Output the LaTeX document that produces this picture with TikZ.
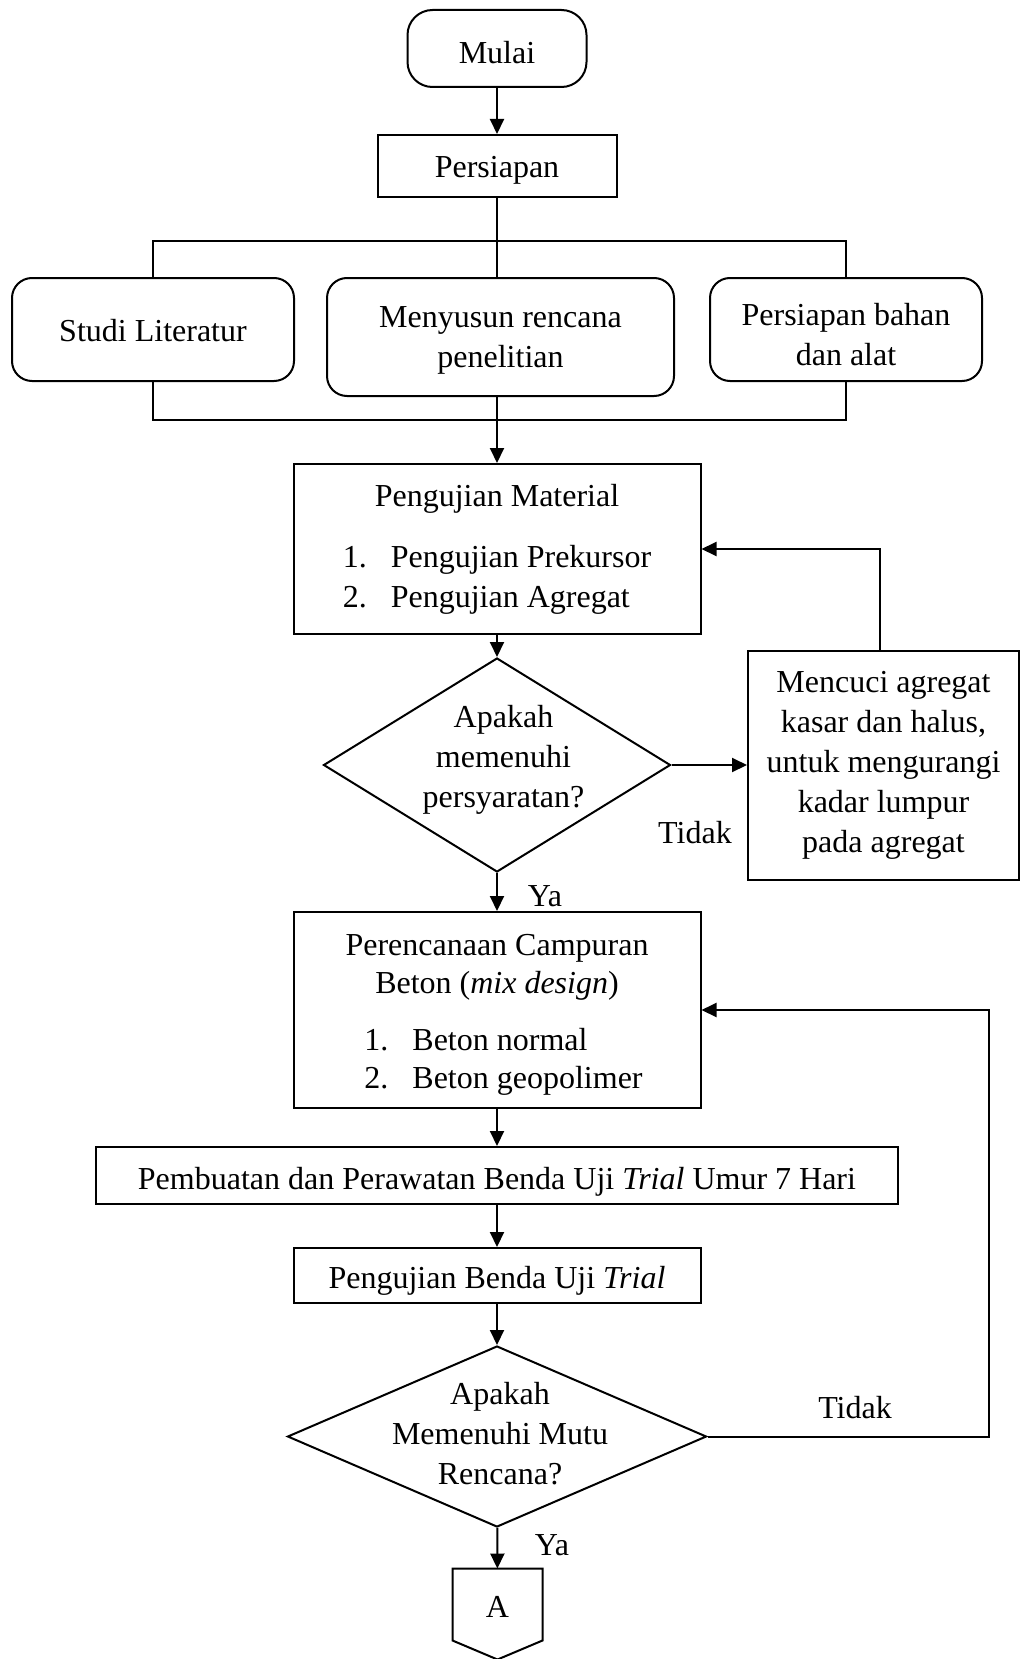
\documentclass[tikz,border=0pt]{standalone}
\usepackage{fontspec}
\setmainfont{Liberation Serif}
\usepackage{tikz}
\usetikzlibrary{shapes.geometric, positioning, arrows.meta, calc}
\newlength{\pxu}
\setlength{\pxu}{0.4pt}
% struts to place text like the original
\newcommand{\geser}[1]{\rule{0pt}{#1\pxu}}
\newcommand{\angkat}[1]{\rule[-#1\pxu]{0pt}{#1\pxu}}

\begin{document}
\begin{tikzpicture}[
        x=\pxu, y=-\pxu,
        every node/.style={font=\fontsize{12.8}{16}\selectfont},
        box/.style={draw, rectangle, thick, align=center, inner sep=0pt},
        rbox/.style={box, rounded corners=20*\pxu},
        dec/.style={draw, diamond, thick, align=center, inner sep=-30*\pxu},
        arr/.style={-{Triangle[length=6pt, width=5.6pt]}, thick}
    ]
    \useasboundingbox (0,0) rectangle (1021,1659);

    % Start
    \node[rbox, rounded corners=25*\pxu, minimum width=179*\pxu, minimum height=77*\pxu] (mulai) at (497,48.5) {\geser{30}Mulai};
    \node[box, minimum width=239*\pxu, minimum height=62*\pxu] (persiapan) at (497,166) {\geser{30}Persiapan};

    % Preparation
    \node[rbox, minimum width=282*\pxu, minimum height=103*\pxu] (studi) at (153,329.5) {\geser{24}Studi Literatur};
    \node[rbox, minimum width=347*\pxu, minimum height=118*\pxu] (menyusun) at (500.5,337) {\geser{27}Menyusun rencana\\penelitian};
    \node[rbox, minimum width=272*\pxu, minimum height=103*\pxu] (bahan) at (846,329.5) {\geser{33}Persiapan bahan\\dan alat};
    \coordinate (atas) at (497,241);
    \coordinate (bawah) at (497,420);

    % Material testing
    \node[box, minimum width=407*\pxu, minimum height=170*\pxu] (material) at (497,549) {\geser{28}Pengujian Material\\[21\pxu]\begin{tabular}[t]{@{}l@{\hspace{24\pxu}}l@{}}1. & Pengujian Prekursor\\2. & Pengujian Agregat\end{tabular}};
    \node[dec, aspect=1.6, minimum width=347*\pxu, minimum height=214*\pxu] (cek1) at (497,765) {\hspace*{13\pxu}Apakah\\\hspace*{13\pxu}memenuhi\\\hspace*{13\pxu}persyaratan?\angkat{18}};
    \node[box, minimum width=271*\pxu, minimum height=229*\pxu] (cuci) at (883.5,765.5) {Mencuci agregat\\kasar dan halus,\\untuk mengurangi\\kadar lumpur\\pada agregat};

    % Mix design and trial
    \node[box, font=\fontsize{12.8}{15.2}\selectfont, minimum width=407*\pxu, minimum height=196*\pxu] (rencana) at (497,1010) {\geser{35}Perencanaan Campuran\\Beton (\textit{mix design})\\[19\pxu]\hspace*{13\pxu}\begin{tabular}[t]{@{}l@{\hspace{24\pxu}}l@{}}1. & Beton normal\\2. & Beton geopolimer\end{tabular}};
    \node[box, minimum width=802*\pxu, minimum height=57*\pxu] (pembuatan) at (497,1175.5) {\geser{35}Pembuatan dan Perawatan Benda Uji \textit{Trial} Umur 7 Hari};
    \node[box, minimum width=407*\pxu, minimum height=55*\pxu] (uji) at (497,1275.5) {\geser{32}Pengujian Benda Uji \textit{Trial}};
    \node[dec, aspect=2.3, minimum width=419*\pxu, minimum height=181*\pxu] (cek2) at (497,1436.5) {\hspace*{6\pxu}Apakah\\\hspace*{6\pxu}Memenuhi Mutu\\\hspace*{6\pxu}Rencana?\angkat{6}};
    \coordinate (balik) at (989,1436.5);

    % Off-page connector
    \node[minimum width=89*\pxu, minimum height=71*\pxu, inner sep=0pt] (konektor) at (497.5,1604.5) {\geser{25}A};
    \draw[thick] (konektor.north west) -- (konektor.north east) -- (konektor.south east) -- ($(konektor.south)+(0,19)$) -- (konektor.south west) -- cycle;

    % Labels
    \node (tidak1) at (695,833) {Tidak};
    \node (ya1) at (545,896) {Ya};
    \node (tidak2) at (855,1408) {Tidak};
    \node (ya2) at (552,1545) {Ya};

    % Arrows
    \draw[arr] (mulai) -- (persiapan);
    \draw[thick] (persiapan) -- (persiapan |- menyusun.north);
    \draw[thick] (studi.north) |- (atas) -| (bahan.north);
    \draw[thick] (studi.south) |- (bawah) -| (bahan.south);
    \draw[arr] (material |- menyusun.south) -- (material);
    \draw[arr] (material) -- (cek1);
    \draw[arr] (cek1.east) -- (cuci.west |- cek1.east);
    \draw[arr] ([xshift=-3.5*\pxu]cuci.north) |- (material.east);
    \draw[arr] (cek1) -- (rencana);
    \draw[arr] (rencana) -- (pembuatan);
    \draw[arr] (pembuatan) -- (uji);
    \draw[arr] (uji) -- (cek2);
    \draw[arr] (cek2.east) -- (balik) |- (rencana.east);
    \draw[arr] (cek2) -- (konektor);

\end{tikzpicture}
\end{document}
